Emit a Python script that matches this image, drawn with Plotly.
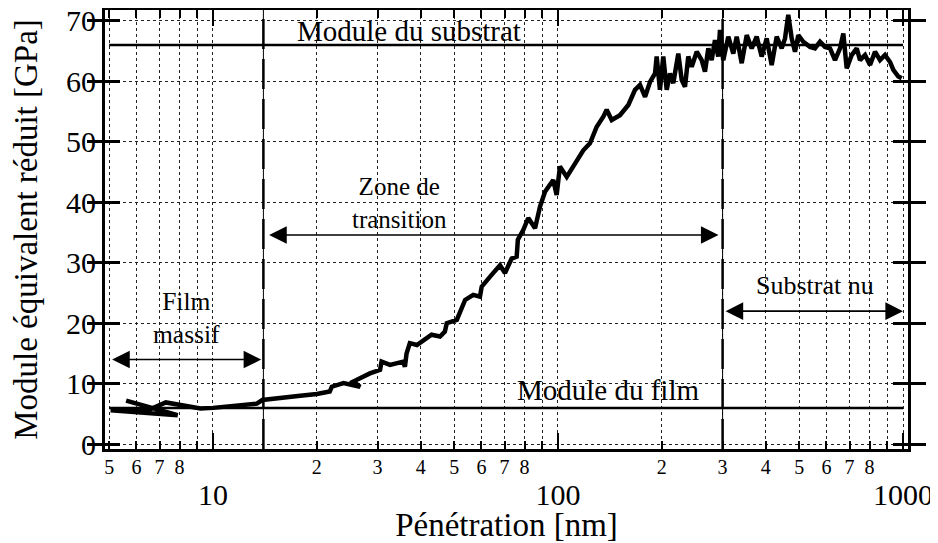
import numpy as np
import plotly.graph_objs as go

# penetration depth [nm] and reduced modulus [GPa]
depth_nm = [5.6, 7.9, 5.05, 6.6, 7.3, 8.3, 9.2, 10.0, 11.0, 12.0, 13.4, 13.9,
            16.0, 17.9, 20.0, 21.8, 22.1, 23.9, 26.7, 25.5, 28.5, 30.5, 30.8, 32.6,
            35.6, 36.0, 36.4, 37.2, 39.0, 40.7, 43.0, 45.5, 47.0, 47.6,
            50.9, 53.8, 56.8, 59.4, 60.1, 64.2, 67.9, 70.2, 73.4, 75.9, 76.5, 79.3,
            82.0, 85.8, 88.7, 91.7, 96.9, 99.1, 101.3, 106.0, 113.3, 118.4, 123.8,
            126.6, 129.5, 135.3, 138.4, 143.1, 151.2, 159.9, 167.2, 172.9, 178.8,
            184.8, 191.1, 193.2, 197.5, 201.9, 206.6, 211.2, 215.9, 223.2, 228.4,
            233.4, 238.6, 244.1, 252.4, 260.9, 266.7, 272.7, 278.9, 285.1, 291.4,
            294.8, 301.3, 311.6, 322.2, 329.6, 340.8, 352.4, 364.3, 376.6, 389.4,
            402.6, 416.3, 430.4, 445.0, 455.0, 465.0, 475.7, 486.4, 497.2, 514.0,
            537.5, 555.8, 574.7, 594.2, 614.4, 635.3, 656.8, 671.4, 686.8, 710.2,
            734.3, 750.7, 776.2, 802.5, 829.7, 857.9, 887.0, 917.1, 937.6, 969.2, 991.3]
modulus_gpa = [7.2, 4.8, 5.6, 5.8, 6.9, 6.4, 5.9, 6.0, 6.2, 6.4, 6.7, 7.3,
               7.6, 8.0, 8.3, 8.7, 9.5, 10.1, 9.5, 10.35, 11.7, 12.3, 13.65, 13.1,
               13.65, 12.8, 15.0, 16.7, 16.4, 17.2, 18.1, 17.8, 18.6, 20.0,
               20.55, 23.85, 24.7, 24.4, 26.05, 28.0, 29.6, 28.3, 30.7, 31.0, 33.8, 35.4,
               37.4, 35.7, 39.3, 41.75, 43.7, 41.2, 45.9, 44.2, 47.0, 48.6, 49.75,
               51.4, 52.5, 54.15, 55.3, 53.6, 54.4, 56.1, 58.6, 59.4, 57.45,
               59.9, 61.3, 64.1, 58.6, 64.1, 58.6, 61.3, 59.7, 64.6, 60.2,
               59.1, 64.1, 62.4, 64.9, 63.5, 61.6, 65.45, 63.5, 66.8, 64.1,
               68.5, 63.5, 67.4, 64.6, 67.4, 63.0, 67.65, 65.45, 67.4, 64.1,
               67.1, 62.7, 67.4, 65.45, 67.1, 71.0, 67.1, 64.9, 67.65, 66.55,
               65.7, 65.45, 66.55, 65.7, 65.45, 63.5, 65.45, 67.9, 62.15, 64.35,
               65.45, 63.5, 64.35, 62.7, 64.9, 63.5, 64.35, 63.2, 61.9, 60.8, 60.5]

substrate_modulus = 66
film_modulus = 6
reference_span = [5, 1000]
boundary_depths = [14, 300]

y_ticks = [0, 10, 20, 30, 40, 50, 60, 70]
x_minor_ticks = [5, 6, 7, 8, 9, 20, 30, 40, 50, 60, 70, 80, 90,
                 200, 300, 400, 500, 600, 700, 800, 900]
x_minor_labels = ["5", "6", "7", "8", "", "2", "3", "4", "5", "6", "7", "8", "",
                  "2", "3", "4", "5", "6", "7", "8", ""]
x_decades = [10, 100, 1000]
x_decade_labels = ["10", "100", "1000"]

# double arrows: (start, end, level)
region_arrows = [(5.05, 13.8, 14), (14.4, 292, 34.6), (303, 1000, 22)]
# labels: (text, depth, modulus, size)
region_labels = [("Module du substrat", 37, 68.3, 29),
                 ("Film<br>massif", 8.4, 20.9, 25.5),
                 ("Zone de<br>transition", 34.8, 39.9, 25),
                 ("Substrat nu", 556, 26.3, 26),
                 ("Module du film", 139.6, 9.0, 29)]

FONT = "Liberation Serif"
x_range = [0.687, 3.0145]
y_range = [-0.8, 71.8]

fig = go.Figure()

# boundary lines: thin solid with thick long dashes on top
for d in boundary_depths:
    fig.add_trace(go.Scatter(x=[d, d], y=y_range, mode="lines",
                             line=dict(color="black", width=1), showlegend=False))
    fig.add_trace(go.Scatter(x=[d, d], y=y_range, mode="lines",
                             line=dict(color="black", width=2.5, dash="30px,10px"),
                             showlegend=False))

for level in [substrate_modulus, film_modulus]:
    fig.add_trace(go.Scatter(x=reference_span, y=[level, level], mode="lines",
                             line=dict(color="black", width=2.5), showlegend=False))

fig.add_trace(go.Scatter(x=depth_nm, y=modulus_gpa, mode="lines",
                         line=dict(color="black", width=4.5), showlegend=False))

# dummy trace so the decade axis is drawn
fig.add_trace(go.Scatter(x=[10], y=[None], xaxis="x2", mode="lines", showlegend=False))

for x0, x1, level in region_arrows:
    fig.add_annotation(x=np.log10(x1), y=level, ax=np.log10(x0), ay=level,
                       xref="x", yref="y", axref="x", ayref="y", text="",
                       showarrow=True, arrowside="end+start", arrowhead=2,
                       startarrowhead=2, arrowsize=2.2, startarrowsize=2.2,
                       arrowwidth=1.6, arrowcolor="black", standoff=0, startstandoff=0)

for text, d, m, size in region_labels:
    fig.add_annotation(x=np.log10(d), y=m, text=text, showarrow=False,
                       font=dict(family=FONT, size=size, color="black"))

grid = dict(showgrid=True, gridcolor="#222", gridwidth=1, griddash="dot")

# page body adds an 8px offset, so the figure is 8px smaller than the window
fig.update_layout(
    width=930, height=535,
    margin=dict(l=97, r=30, t=2, b=94, autoexpand=False),
    paper_bgcolor="white", plot_bgcolor="white",
    font=dict(family=FONT, color="black"),
    xaxis=dict(type="log", range=x_range, tickmode="array", tickvals=x_minor_ticks,
               ticktext=x_minor_labels, ticks="inside", ticklen=8, tickwidth=1.5,
               tickcolor="black", tickfont=dict(family=FONT, size=20),
               ticklabelstandoff=-2, automargin=False,
               showline=True, linewidth=3, linecolor="black", mirror="allticks",
               zeroline=False, **grid),
    xaxis2=dict(type="log", range=x_range, overlaying="x", anchor="y", side="bottom",
                tickmode="array", tickvals=x_decades, ticktext=x_decade_labels,
                ticks="inside", ticklen=16, tickwidth=2, tickcolor="black",
                tickfont=dict(family=FONT, size=30), ticklabelstandoff=17,
                ticklabeloverflow="allow", automargin=False,
                showline=True, linewidth=3, linecolor="black", mirror="allticks",
                zeroline=False,
                title=dict(text="Pénétration [nm]", font=dict(family=FONT, size=33),
                           standoff=0), **grid),
    yaxis=dict(range=y_range, tickmode="array", tickvals=y_ticks,
               ticks="inside", ticklen=15, tickwidth=2.5, tickcolor="black",
               tickfont=dict(family=FONT, size=30), ticklabeloverflow="allow",
               automargin=False,
               showline=True, linewidth=3, linecolor="black",
               mirror="allticks", zeroline=False,
               title=dict(text="Module équivalent réduit [GPa]",
                          font=dict(family=FONT, size=33), standoff=19), **grid),
)

fig.write_html("out.html")
